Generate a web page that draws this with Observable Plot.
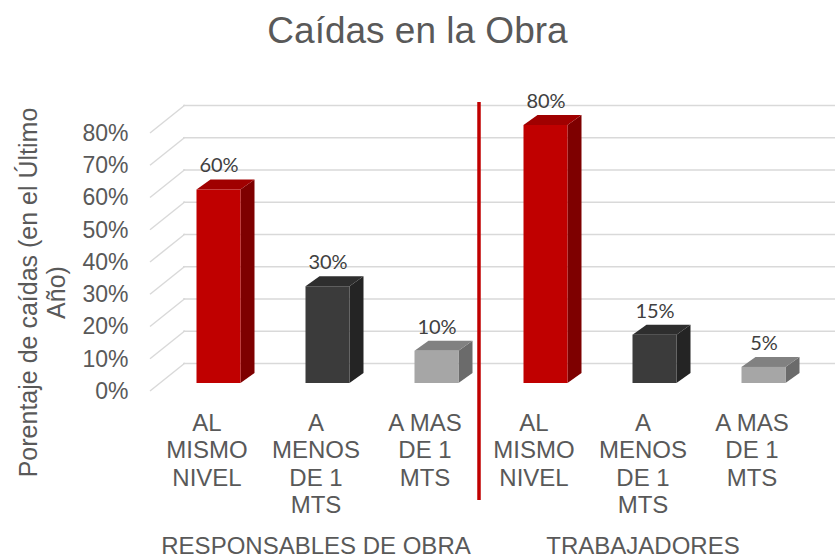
<!DOCTYPE html>
<html>
<head>
<meta charset="utf-8">
<script src="https://cdn.jsdelivr.net/npm/d3@7"></script>
<script src="https://cdn.jsdelivr.net/npm/@observablehq/plot@0.6"></script>
<style>
  html, body { margin: 0; padding: 0; background: #fff; }
  #title { box-sizing: border-box; height: 62px; padding-top: 12px; text-align: center;
    font: 37px "Liberation Sans", Arial, sans-serif; line-height: 1; color: #595959; }
  svg { display: block; }
</style>
</head>
<body>
<div id="title">Caídas en la Obra</div>
<div id="chart"></div>
<script>
// ---- data ----
const groups = ["RESPONSABLES DE OBRA", "TRABAJADORES"];
const types = ["AL\nMISMO\nNIVEL", "A\nMENOS\nDE 1\nMTS", "A MAS\nDE 1\nMTS"];
const responsables = [0.60, 0.30, 0.10];
const trabajadores = [0.80, 0.15, 0.05];
const yTicks = [0, 0.1, 0.2, 0.3, 0.4, 0.5, 0.6, 0.7, 0.8];
const yTitle = "Porentaje de caídas (en el Último\nAño)";

// colours per type: [front, top, side]
const palette = [
  ["#C00000", "#A00000", "#7E0000"],
  ["#3B3B3B", "#2E2E2E", "#242424"],
  ["#A6A6A6", "#818181", "#6B6B6B"]
];

const seriesByGroup = [responsables, trabajadores];
const data = [];
groups.forEach((g, gi) => types.forEach((t, ti) => {
  data.push({key: gi + "-" + ti, group: g, type: t, ti, value: seriesByGroup[gi][ti]});
}));
const keys = data.map(d => d.key);

const W = 835, H = 495;
const font = '"Liberation Sans", Arial, sans-serif';
const ns = "http://www.w3.org/2000/svg";
function el(tag, attrs) {
  const e = document.createElementNS(ns, tag);
  for (const k in attrs) e.setAttribute(k, attrs[k]);
  return e;
}

// 3D geometry (pixels)
const DEPTH_X = 14, DEPTH_Y = -10;      // bar depth
const WALL_X = 33, WALL_Y = -20;        // back wall offset
const FLOOR_X = -2, FLOOR_Y = 8;        // front edge offset

function bandInfo(scales) {
  const x = scales.x;
  const bw = x.bandwidth ? x.bandwidth() : (x(keys[1]) - x(keys[0]));
  return {x, bw};
}

// perspective side lines of the gridlines
function slants(index, scales) {
  const y = scales.y;
  const {x} = bandInfo(scales);
  const x0 = x(keys[0]);
  const g = el("g", {stroke: "#D9D9D9", "stroke-width": 1.4, fill: "none"});
  for (const v of yTicks) {
    g.appendChild(el("line", {x1: x0 + FLOOR_X, y1: y(v) + FLOOR_Y, x2: x0 + WALL_X, y2: y(v) + WALL_Y}));
  }
  return g;
}

// 3D bars
function bars3d(index, scales) {
  const y = scales.y;
  const {x, bw} = bandInfo(scales);
  const g = el("g", {});
  for (const d of data) {
    const cx = x(d.key) + bw / 2 + 12;
    const l = cx - 22, r = cx + 22;
    const y0 = y(0), y1 = y(d.value);
    const [cf, ct, cs] = palette[d.ti];
    g.appendChild(el("polygon", {fill: cs, points: [
      [r, y0], [r + DEPTH_X, y0 + DEPTH_Y], [r + DEPTH_X, y1 + DEPTH_Y], [r, y1]].map(p => p.join(",")).join(" ")}));
    g.appendChild(el("polygon", {fill: ct, points: [
      [l, y1], [l + DEPTH_X, y1 + DEPTH_Y], [r + DEPTH_X, y1 + DEPTH_Y], [r, y1]].map(p => p.join(",")).join(" ")}));
    g.appendChild(el("rect", {fill: cf, x: l, y: y1, width: r - l, height: y0 - y1}));
  }
  return g;
}

// separator between the two groups
function separator(index, scales) {
  const y = scales.y;
  const {x} = bandInfo(scales);
  const xs = x(keys[3]);
  return el("line", {x1: xs, x2: xs, y1: y(0.8) - 23, y2: y(0) + 117, stroke: "#C00000", "stroke-width": 3.5});
}

const chart = Plot.plot({
  width: W,
  height: H,
  marginTop: 63,
  marginBottom: 174,
  marginLeft: 150,
  marginRight: 28,
  style: {fontFamily: font, background: "#fff", overflow: "visible"},
  x: {type: "band", domain: keys, padding: 0, axis: null},
  y: {domain: [0, 0.8], axis: null},
  marks: [
    Plot.ruleY(yTicks, {stroke: "#D9D9D9", strokeWidth: 1.4, dy: WALL_Y, insetLeft: WALL_X, insetRight: -28}),
    slants,
    bars3d,
    separator,
    // y tick labels
    Plot.text(yTicks, {y: d => d, text: d => Math.round(d * 100) + "%", frameAnchor: "left",
      textAnchor: "end", dx: -22, dy: 8, fontSize: 23, fill: "#595959"}),
    // value labels
    Plot.text(data, {x: "key", y: "value", text: d => Math.round(d.value * 100) + "%", dx: 12, dy: -24,
      fontSize: 20, fill: "#404040", fontFamily: "Lato, 'Open Sans', sans-serif"}),
    // category labels
    Plot.text(data, {x: "key", y: () => 0, text: "type", lineAnchor: "top", dy: 28, lineHeight: 1.14,
      fontSize: 24, fill: "#595959"}),
    // group labels
    Plot.text([0, 1], {x: i => keys[i * 3 + 1], y: () => 0, text: i => groups[i], lineAnchor: "top", dy: 153,
      fontSize: 24, fill: "#595959"}),
    // y axis title
    Plot.text([yTitle], {frameAnchor: "left", text: d => d, rotate: -90, textAnchor: "middle", lineAnchor: "middle",
      dx: -108, dy: 38, lineHeight: 1.12, fontSize: 25, fill: "#595959"})
  ]
});
document.getElementById("chart").appendChild(chart);
</script>
</body>
</html>
